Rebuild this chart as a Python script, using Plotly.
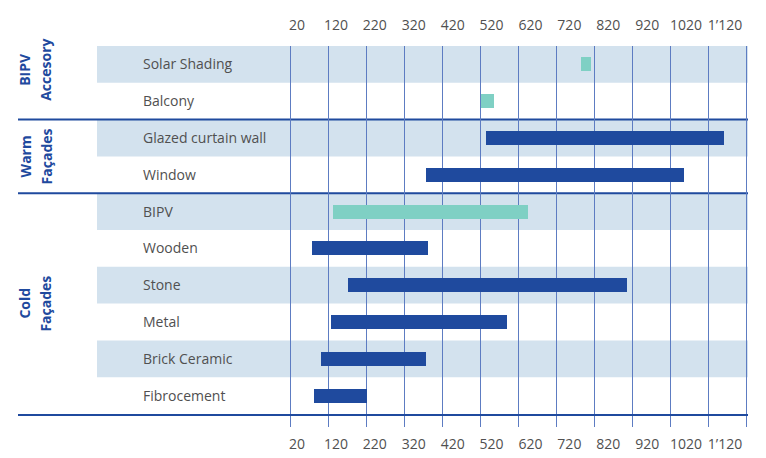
import plotly.graph_objects as go

# ---- data ----
categories = ["Solar Shading", "Balcony", "Glazed curtain wall", "Window", "BIPV",
              "Wooden", "Stone", "Metal", "Brick Ceramic", "Fibrocement"]
groups = ["BIPV<br>Accesory", "BIPV<br>Accesory",
          "Warm<br>Façades", "Warm<br>Façades",
          "Cold<br>Façades", "Cold<br>Façades", "Cold<br>Façades",
          "Cold<br>Façades", "Cold<br>Façades", "Cold<br>Façades"]
range_start = [785, 520, 535, 375, 130, 75, 170, 125, 100, 80]
range_end = [810, 555, 1160, 1055, 645, 380, 905, 590, 375, 220]
is_bipv = [True, True, False, False, True, False, False, False, False, False]
tick_values = [20, 120, 220, 320, 420, 520, 620, 720, 820, 920, 1020, 1120]
tick_labels = ["20", "120", "220", "320", "420", "520", "620", "720", "820", "920", "1020", "1\u2019120"]
grid_values = tick_values + [1220]

# ---- styles ----
DARK = "#1f4a9e"
TEAL = "#7fd0c4"
BAND = "#d3e2ee"
GRID = "#5d7cc2"
TEXT = "#505050"
FONT = "Open Sans"

# page body has an 8px default margin, so the figure is drawn 8px in
W, H = 758, 450
ML, MR, MT, MB = 10, 18, 38, 44
PW = W - ML - MR
main_range = [-697.6, 1223.4]
label_range = [-697.1, 1179.1]

fig = go.Figure()
fig.add_trace(go.Bar(
    orientation="h",
    y=categories,
    x=[e - s for s, e in zip(range_start, range_end)],
    base=range_start,
    width=0.38,
    marker=dict(color=[TEAL if b else DARK for b in is_bipv], line=dict(width=0)),
    hoverinfo="skip",
    showlegend=False,
))
# empty carriers so the overlaid label axes are drawn
for ax in ["x3", "x4"]:
    fig.add_trace(go.Scatter(x=[], y=[], xaxis=ax, yaxis="y", showlegend=False,
                             hoverinfo="skip"))

shapes = []
# alternating bands
for i, c in enumerate(categories):
    if i % 2 == 0:
        shapes.append(dict(type="rect", xref="paper", yref="y",
                           x0=79 / PW, x1=1,
                           y0=i - 0.5, y1=i + 0.5,
                           fillcolor=BAND, line=dict(width=0), layer="below"))
# group separators
for i in range(1, len(groups)):
    if groups[i] != groups[i - 1]:
        shapes.append(dict(type="line", xref="paper", yref="y",
                           x0=0, x1=1, y0=i - 0.5, y1=i - 0.5,
                           line=dict(color=DARK, width=2), layer="between"))

# group labels (each line placed separately for wider line spacing)
annotations = []
seen = []
for g in groups:
    if g not in seen:
        seen.append(g)
line_x = [7 / PW, 28 / PW]
for g in seen:
    idx = [i for i, gg in enumerate(groups) if gg == g]
    center = (idx[0] + idx[-1]) / 2
    for k, part in enumerate(g.split("<br>")):
        annotations.append(dict(
            xref="paper", yref="y", x=line_x[k], y=center,
            text="<b>" + part + "</b>", textangle=-90, showarrow=False,
            xanchor="center", yanchor="middle",
            yshift=13 if idx[0] == 0 else 0,
            font=dict(family=FONT, size=14, color=DARK)))

fig.update_layout(
    width=W, height=H,
    margin=dict(l=ML, r=MR, t=MT, b=MB, autoexpand=False),
    plot_bgcolor="white", paper_bgcolor="white",
    font=dict(family=FONT, size=14, color=TEXT),
    bargap=0,
    shapes=shapes,
    annotations=annotations,
    xaxis=dict(range=main_range, tickvals=grid_values, showticklabels=False,
               showgrid=True, gridcolor=GRID, gridwidth=1.3, automargin=False,
               ticks="outside", ticklen=11, tickcolor=GRID, tickwidth=1.3,
               showline=True, linecolor=DARK, linewidth=2, zeroline=False),
    xaxis2=dict(range=main_range, overlaying="x", side="top", anchor="y",
                tickvals=tick_values, showticklabels=False, showgrid=False,
                ticks="outside", ticklen=6, tickcolor=GRID, tickwidth=1.3,
                showline=False, zeroline=False, automargin=False),
    xaxis3=dict(range=label_range, overlaying="x", side="bottom", anchor="y",
                tickvals=tick_values, ticktext=tick_labels, showgrid=False,
                ticks="", showline=False, zeroline=False, ticklabelstandoff=20,
                automargin=False,
                tickfont=dict(family=FONT, size=14, color=TEXT)),
    xaxis4=dict(range=label_range, overlaying="x", side="top", anchor="y",
                tickvals=tick_values, ticktext=tick_labels, showgrid=False,
                ticks="", showline=False, zeroline=False, ticklabelstandoff=12,
                automargin=False,
                tickfont=dict(family=FONT, size=14, color=TEXT)),
    yaxis=dict(categoryorder="array", categoryarray=categories,
               range=[len(categories) - 0.5, -0.5], automargin=False,
               showgrid=False, zeroline=False, showline=False, ticks="",
               anchor="free", position=121 / PW,
               ticklabelposition="inside",
               tickfont=dict(family=FONT, size=14, color=TEXT)),
)

fig.write_html("out.html")
